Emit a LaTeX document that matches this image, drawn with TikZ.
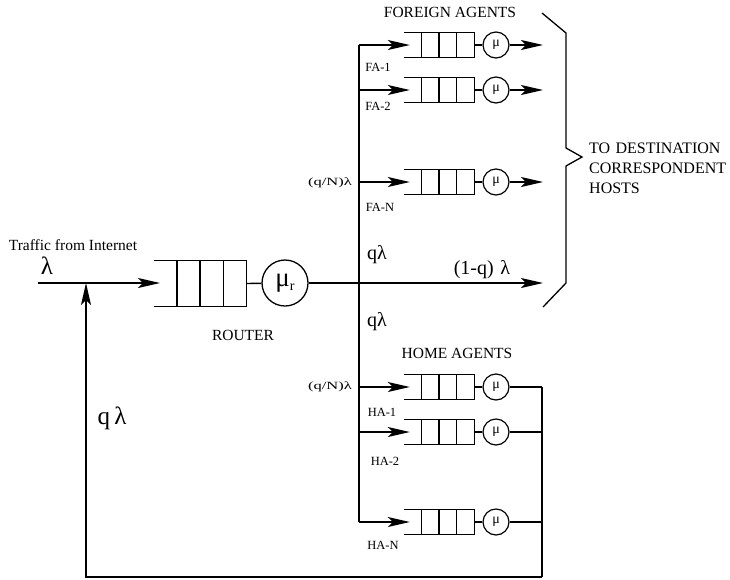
\documentclass[tikz,border=0pt]{standalone}
\usepackage{fontspec}
\setmainfont{Liberation Serif}
\usetikzlibrary{arrows.meta,calc}
\tikzset{
  ln/.style={line width=1.4pt},
  arr/.style={ln,-{Stealth[length=22pt,width=10pt,inset=5pt]}},
  qline/.style={line width=1.2pt},
  qnode/.style={minimum width=70pt,minimum height=24pt,inner sep=0pt},
  rqnode/.style={minimum width=92pt,minimum height=45pt,inner sep=0pt},
  srv/.style={circle,draw,line width=1.2pt,minimum size=26pt,inner sep=0pt,font=\fontsize{14}{14}\selectfont},
  rsrv/.style={circle,draw,line width=1.3pt,minimum size=46pt,inner sep=0pt,font=\fontsize{27}{27}\selectfont},
  lbl/.style={font=\fontsize{12.5}{14}\selectfont,inner sep=0pt},
  tfl/.style={font=\fontsize{15.5}{17}\selectfont,inner sep=0pt},
  small/.style={font=\fontsize{11}{12}\selectfont,inner sep=0pt},
  head/.style={font=\fontsize{15.5}{17}\selectfont,inner sep=0pt},
  dst/.style={font=\fontsize{16}{20}\selectfont,inner sep=0pt},
  rate/.style={font=\fontsize{20}{22}\selectfont,inner sep=0pt},
  big/.style={font=\fontsize{25}{27}\selectfont,inner sep=0pt},
}
\newcommand\queuelines[1]{%
  \draw[qline] (#1.north west) -- (#1.north east) -- (#1.south east) -- (#1.south west);
  \foreach \f in {0.25,0.5,0.75}{\draw[qline] ($(#1.north west)!\f!(#1.north east)$) -- ($(#1.south west)!\f!(#1.south east)$);}}
\begin{document}
\begin{tikzpicture}[x=1pt,y=-1pt]
\useasboundingbox (0,0) rectangle (730,579);

% router
\node[rqnode] (rq) at (200,283.5) {};
\queuelines{rq}
\node[rsrv] (rs) at (285,283) {μ\raisebox{-0.3ex}{\fontsize{14}{14}\selectfont r}};
\coordinate (src) at (38,283);
\coordinate (j) at (86,283);
\coordinate (out) at (543,283);
\coordinate (rqin) at (160,283);
\draw[arr] (src) -- (rqin);
\draw[ln] (rq.east) -- (rs);
\draw[arr] (rs) -- (out);

% foreign agents
\foreach \n/\y in {f1/45,f2/90,fN/182}{
  \node[qnode] (q\n) at (439,\y) {};
  \queuelines{q\n}
  \node[srv] (s\n) at (496,\y) {μ};
  \draw[ln] (q\n.east) -- (s\n);
  \coordinate (b\n) at (359,\y);
  \coordinate (o\n) at (543,\y);
  \draw[arr,shorten >=-6pt] (b\n) -- (q\n.west);
  \draw[arr] (s\n) -- (o\n);
}
% home agents
\foreach \n/\y in {h1/387,h2/432,hN/522}{
  \node[qnode] (q\n) at (439,\y) {};
  \queuelines{q\n}
  \node[srv] (s\n) at (496,\y) {μ};
  \draw[ln] (q\n.east) -- (s\n);
  \coordinate (b\n) at (359,\y);
  \coordinate (o\n) at (542,\y);
  \draw[arr,shorten >=-6pt] (b\n) -- (q\n.west);
  \draw[ln] (s\n) -- (o\n);
}
% distribution bus
\draw[ln] (bf1) -- (bhN);
% feedback
\coordinate (fbr) at (542,577);
\coordinate (fbl) at (86,577);
\draw[ln] (oh1) -- (fbr);
\draw[arr] (fbr) -- (fbl) -- (j);

% brace
\draw[line width=1.3pt] (542,13) -- (566,33) -- (566,148) -- (582,157) -- (566,166) -- (566,283) -- (543,307);

% labels
\node[tfl] (tfi) at (73,245) {Traffic from Internet};
\node[big] (lam) at (47,266) {λ};
\node[head] (rtr) at (243,335) {ROUTER};
\node[big] (qlfb) at (112,418) {q\,λ};
\node[head] (fah) at (450,12) {FOREIGN AGENTS};
\node[head] (hah) at (457,353) {HOME AGENTS};
\node[lbl] (lf1) at (378,67) {FA-1};
\node[lbl] (lf2) at (378,106) {FA-2};
\node[lbl] (lfN) at (380,207) {FA-N};
\node[lbl] (lh1) at (382,412) {HA-1};
\node[lbl] (lh2) at (385,461) {HA-2};
\node[lbl] (lhN) at (383,545) {HA-N};
\node[small] (qnf) at (330,183) {\scalebox{1.5}[1]{(q/N)λ}};
\node[small] (qnh) at (330,387) {\scalebox{1.5}[1]{(q/N)λ}};
\node[rate] (qlu) at (377,255) {qλ};
\node[rate] (qld) at (377,322) {qλ};
\node[rate] (oneq) at (482,270) {(1-q)\,\,λ};
\node[dst,align=left,anchor=west] (dest) at (589,168) {TO\,\,DESTINATION\\CORRESPONDENT\\HOSTS};
\end{tikzpicture}
\end{document}
